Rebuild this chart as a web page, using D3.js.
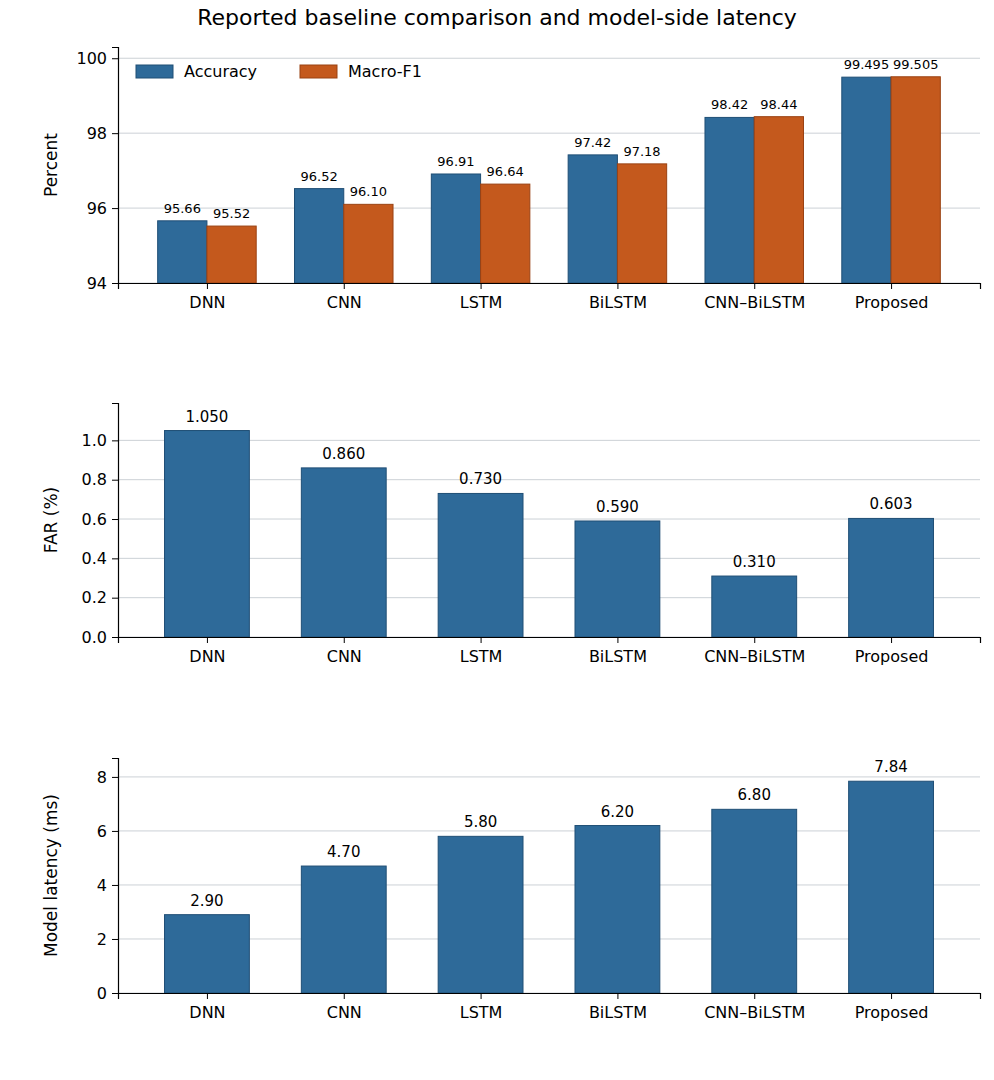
<!DOCTYPE html>
<html><head><meta charset="utf-8">
<script src="https://cdn.jsdelivr.net/npm/d3@7"></script>
<style>body{margin:0;background:#fff}text{font-family:"DejaVu Sans",sans-serif}</style>
</head><body>
<svg id="c" width="994" height="1080"></svg>
<script>
const models = ["DNN", "CNN", "LSTM", "BiLSTM", "CNN\u2013BiLSTM", "Proposed"];
const accuracy = [95.66, 96.52, 96.91, 97.42, 98.42, 99.495];
const macroF1 = [95.52, 96.10, 96.64, 97.18, 98.44, 99.505];
const accLabels = ["95.66", "96.52", "96.91", "97.42", "98.42", "99.495"];
const f1Labels = ["95.52", "96.10", "96.64", "97.18", "98.44", "99.505"];
const far = [1.05, 0.86, 0.73, 0.59, 0.31, 0.603];
const latency = [2.90, 4.70, 5.80, 6.20, 6.80, 7.84];

const blue = "#2e6a99", blueEdge = "#1f4e75", orange = "#c4591d", orangeEdge = "#9a4213";
const svg = d3.select("#c");
const x0 = 118, x1 = 980;
const x = d3.scaleLinear().domain([-0.65, 5.65]).range([x0, x1]);

svg.append("text").attr("x", 497).attr("y", 25).attr("text-anchor", "middle")
  .attr("font-size", 22).text("Reported baseline comparison and model-side latency");

function panel(top, bottom, domain, ticks, fmt, ylabel) {
  const y = d3.scaleLinear().domain(domain).range([bottom, top]);
  const g = svg.append("g");
  g.selectAll(".grid").data(ticks).join("line")
    .attr("x1", x0).attr("x2", x1).attr("y1", d => y(d)).attr("y2", d => y(d))
    .attr("stroke", "#ccd1d6").attr("stroke-width", 1);
  const ya = g.append("g").attr("transform", `translate(${x0},0)`)
    .call(d3.axisLeft(y).tickValues(ticks).tickFormat(fmt).tickSizeOuter(0).tickSize(6));
  ya.select(".domain").attr("stroke", "#000").attr("stroke-width", 1.2);
  ya.selectAll("text").attr("font-size", 16).attr("font-family", "DejaVu Sans").attr("dx", -2);
  g.append("text").attr("transform", `translate(57,${(top + bottom) / 2}) rotate(-90)`)
    .attr("text-anchor", "middle").attr("font-size", 17).text(ylabel);
  return { g, y };
}

function xAxis(g, bottom) {
  const xa = g.append("g").attr("transform", `translate(0,${bottom})`)
    .call(d3.axisBottom(x).tickValues(d3.range(6)).tickFormat(i => models[i]).tickSizeOuter(0).tickSize(6));
  xa.select(".domain").attr("stroke", "#000").attr("stroke-width", 1.2);
  xa.selectAll("text").attr("font-size", 16).attr("font-family", "DejaVu Sans").attr("dy", "1em");
  g.raise();
}

// panel 1
{
  const bottom = 283;
  const { g, y } = panel(47, bottom, [94, 100.3], [94, 96, 98, 100], d3.format("d"), "Percent");
  const w = 0.36;
  g.selectAll(".acc").data(accuracy).join("rect")
    .attr("x", (d, i) => x(i - w)).attr("width", x(w) - x(0))
    .attr("y", d => y(d)).attr("height", d => bottom - y(d))
    .attr("fill", blue).attr("stroke", blueEdge);
  g.selectAll(".f1").data(macroF1).join("rect")
    .attr("x", (d, i) => x(i)).attr("width", x(w) - x(0))
    .attr("y", d => y(d)).attr("height", d => bottom - y(d))
    .attr("fill", orange).attr("stroke", orangeEdge);
  g.selectAll(".al").data(accuracy).join("text")
    .attr("x", (d, i) => x(i - w / 2)).attr("y", d => y(d) - 8).attr("text-anchor", "middle")
    .attr("font-size", 13).text((d, i) => accLabels[i]);
  g.selectAll(".fl").data(macroF1).join("text")
    .attr("x", (d, i) => x(i + w / 2)).attr("y", d => y(d) - 8).attr("text-anchor", "middle")
    .attr("font-size", 13).text((d, i) => f1Labels[i]);
  const leg = [["Accuracy", blue, blueEdge, 136], ["Macro-F1", orange, orangeEdge, 300]];
  leg.forEach(([t, c, e, lx]) => {
    g.append("rect").attr("x", lx).attr("y", 65).attr("width", 37).attr("height", 13).attr("fill", c).attr("stroke", e);
    g.append("text").attr("x", lx + 48).attr("y", 77).attr("font-size", 16).text(t);
  });
  xAxis(g, bottom);
}

function single(top, bottom, domain, ticks, fmt, ylabel, vals, lfmt) {
  const { g, y } = panel(top, bottom, domain, ticks, fmt, ylabel);
  const w = 0.62;
  g.selectAll(".b").data(vals).join("rect")
    .attr("x", (d, i) => x(i - w / 2)).attr("width", x(w) - x(0))
    .attr("y", d => y(d)).attr("height", d => bottom - y(d))
    .attr("fill", blue).attr("stroke", blueEdge);
  g.selectAll(".l").data(vals).join("text")
    .attr("x", (d, i) => x(i)).attr("y", d => y(d) - 9).attr("text-anchor", "middle")
    .attr("font-size", 15).text(lfmt);
  xAxis(g, bottom);
}

single(403, 637, [0, 1.19], [0, 0.2, 0.4, 0.6, 0.8, 1.0], d3.format(".1f"), "FAR (%)", far, d3.format(".3f"));
single(758, 993, [0, 8.7], [0, 2, 4, 6, 8], d3.format("d"), "Model latency (ms)", latency, d3.format(".2f"));
</script>
</body></html>
